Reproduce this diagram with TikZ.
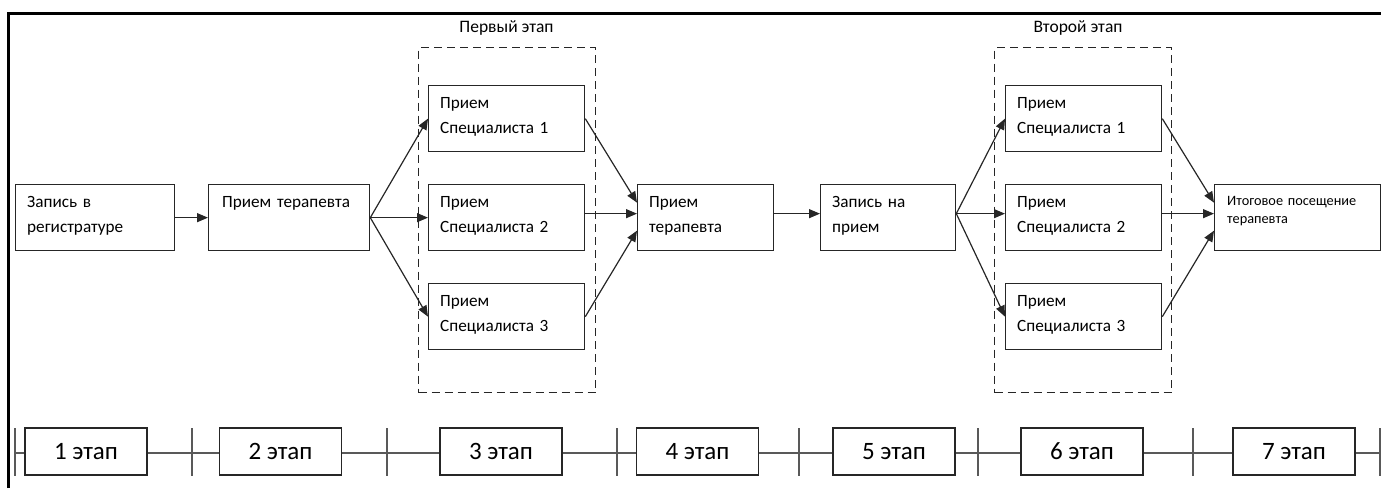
\documentclass[tikz,border=0pt]{standalone}
\usepackage{fontspec}
\setmainfont{Carlito}
\usetikzlibrary{arrows.meta,positioning}

\tikzset{
  box/.style={draw=black!85, line width=1.3pt, rectangle, anchor=north west, inner sep=0pt, minimum width=156pt, minimum height=66pt},
  txt/.style={anchor=base west, inner sep=0pt, text width=150pt, align=left, font=\fontsize{17.2}{25}\selectfont},
  grp/.style={draw=black!85, line width=1.4pt, dash pattern=on 8pt off 5pt, anchor=north west, minimum width=177pt, minimum height=345pt, inner sep=0pt},
  head/.style={anchor=base, font=\fontsize{17.5}{20}\selectfont},
  arr/.style={-{Triangle[length=11pt,width=9pt]}, line width=1.2pt, draw=black!85},
  stagebox/.style={draw=black!85, fill=white, line width=1.3pt, minimum width=122pt, minimum height=47pt, inner sep=0pt, font=\fontsize{25}{28}\selectfont},
}

\begin{document}
\begin{tikzpicture}[x=1pt,y=-1pt]
   \useasboundingbox (0,0) rectangle (1381,488);
   \draw[line width=3pt] (8,488) -- (8,13) -- (1381,13);

   % stage groups
   \node[grp] (grp1) at (418,47) {};
   \node[grp] (grp2) at (994,47) {};
   \node[head] (head1) at (506.5,32) {Первый этап};
   \node[head] (head2) at (1078,32) {Второй этап};

   % boxes
   \node[box, minimum width=159pt] (reg) at (15,184) {};
   \node[box, minimum width=161pt] (ter1) at (208,184) {};
   \node[box] (sp1) at (428,85) {};
   \node[box] (sp2) at (428,184) {};
   \node[box] (sp3) at (428,283) {};
   \node[box, minimum width=136pt] (ter2) at (637,184) {};
   \node[box, minimum width=135pt] (zap) at (820,184) {};
   \node[box] (sp4) at (1005,85) {};
   \node[box] (sp5) at (1005,184) {};
   \node[box] (sp6) at (1005,283) {};
   \node[box, minimum width=166pt] (itog) at (1214,184) {};

   % texts
   \node[txt] (reg-t) at ([xshift=12pt,yshift=-23pt]reg.north west) {Запись в\\регистратуре};
   \node[txt] (ter1-t) at ([xshift=14pt,yshift=-23pt]ter1.north west) {Прием терапевта};
   \node[txt] (sp1-t) at ([xshift=12pt,yshift=-23pt]sp1.north west) {Прием\\Специалиста 1};
   \node[txt] (sp2-t) at ([xshift=12pt,yshift=-23pt]sp2.north west) {Прием\\Специалиста 2};
   \node[txt] (sp3-t) at ([xshift=12pt,yshift=-23pt]sp3.north west) {Прием\\Специалиста 3};
   \node[txt] (ter2-t) at ([xshift=12pt,yshift=-23pt]ter2.north west) {Прием\\терапевта};
   \node[txt] (zap-t) at ([xshift=12pt,yshift=-23pt]zap.north west) {Запись на\\прием};
   \node[txt] (sp4-t) at ([xshift=12pt,yshift=-23pt]sp4.north west) {Прием\\Специалиста 1};
   \node[txt] (sp5-t) at ([xshift=12pt,yshift=-23pt]sp5.north west) {Прием\\Специалиста 2};
   \node[txt] (sp6-t) at ([xshift=12pt,yshift=-23pt]sp6.north west) {Прием\\Специалиста 3};
   \node[txt, font=\fontsize{14.3}{18}\selectfont] (itog-t) at ([xshift=13pt,yshift=-21pt]itog.north west) {Итоговое посещение\\терапевта};

   % connectors
   \draw[arr] (reg.east) -- (ter1.west);
   \draw[arr] (ter1.east) -- (sp1.west);
   \draw[arr] (ter1.east) -- (sp2.west);
   \draw[arr] (ter1.east) -- (sp3.west);
   \draw[arr] (sp1.east) -- ([yshift=15pt]ter2.west);
   \draw[arr] ([yshift=4pt]sp2.east) -- ([yshift=4pt]ter2.west);
   \draw[arr] (sp3.east) -- ([yshift=-13pt]ter2.west);
   \draw[arr] ([yshift=4pt]ter2.east) -- ([yshift=4pt]zap.west);
   \draw[arr] ([yshift=4pt]zap.east) -- (sp4.west);
   \draw[arr] ([yshift=4pt]zap.east) -- ([yshift=4pt]sp5.west);
   \draw[arr] ([yshift=4pt]zap.east) -- (sp6.west);
   \draw[arr] (sp4.east) -- ([yshift=15pt]itog.west);
   \draw[arr] ([yshift=4pt]sp5.east) -- ([yshift=4pt]itog.west);
   \draw[arr] (sp6.east) -- ([yshift=-13pt]itog.west);

   % time line
   \foreach \x [count=\i from 0] in {15,192,387,617,799,978,1193,1380}
      \coordinate (t\i) at (\x,453);
   \draw[black!65, line width=1.5pt] (t0) -- (t7);
   \foreach \i in {0,...,7}
      \draw[black!65, line width=1.5pt] ([yshift=25pt]t\i) -- ([yshift=-23pt]t\i);
   \foreach \x [count=\i] in {86,280.5,501,697.5,894,1082,1294}
      \node[stagebox] (s\i) at (\x,451.5) {\i{} этап};
\end{tikzpicture}
\end{document}
